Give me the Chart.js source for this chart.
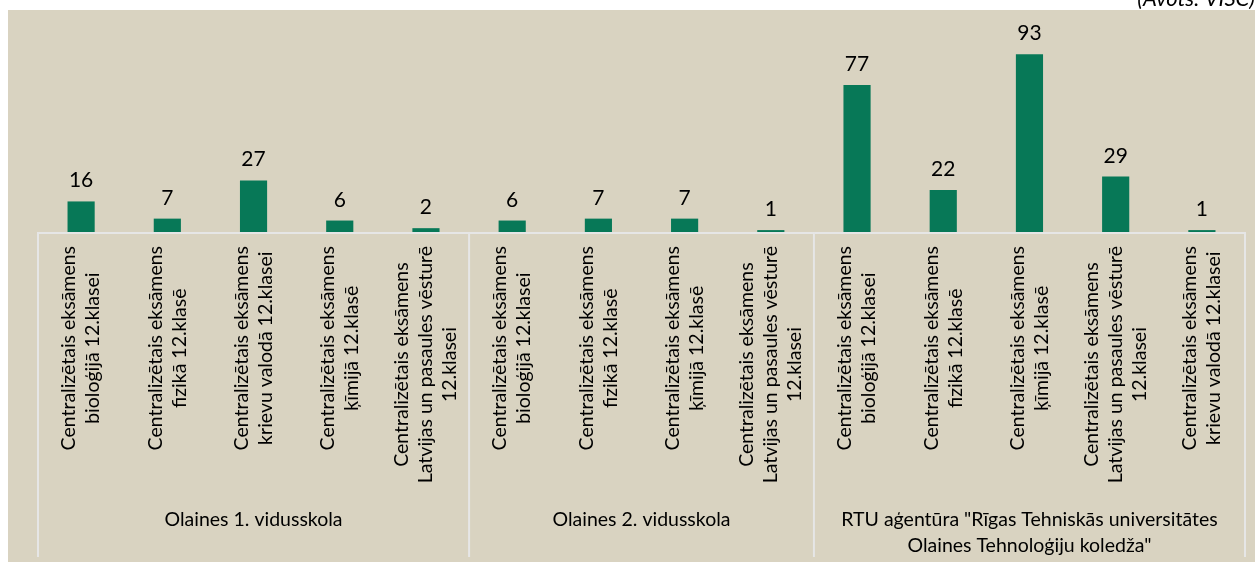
<!DOCTYPE html>
<html>
<head>
<meta charset="utf-8">
<script src="https://cdn.jsdelivr.net/npm/chart.js@4/dist/chart.umd.min.js"></script>
<style>
  html, body { margin: 0; padding: 0; background: #fff; }
  #wrap { width: 1255px; height: 562px; position: relative; }
</style>
</head>
<body>
<div id="wrap"><canvas id="chart" width="1255" height="562"></canvas></div>
<script>
// Data
const categories = [
    ["Centralizētais eksāmens", "bioloģijā 12.klasei"],
    ["Centralizētais eksāmens", "fizikā 12.klasē"],
    ["Centralizētais eksāmens", "krievu valodā 12.klasei"],
    ["Centralizētais eksāmens", "ķīmijā 12.klasē"],
    ["Centralizētais eksāmens", "Latvijas un pasaules vēsturē", "12.klasei"],
    ["Centralizētais eksāmens", "bioloģijā 12.klasei"],
    ["Centralizētais eksāmens", "fizikā 12.klasē"],
    ["Centralizētais eksāmens", "ķīmijā 12.klasē"],
    ["Centralizētais eksāmens", "Latvijas un pasaules vēsturē", "12.klasei"],
    ["Centralizētais eksāmens", "bioloģijā 12.klasei"],
    ["Centralizētais eksāmens", "fizikā 12.klasē"],
    ["Centralizētais eksāmens", "ķīmijā 12.klasē"],
    ["Centralizētais eksāmens", "Latvijas un pasaules vēsturē", "12.klasei"],
    ["Centralizētais eksāmens", "krievu valodā 12.klasei"]
];
const values = [16, 7, 27, 6, 2, 6, 7, 7, 1, 77, 22, 93, 29, 1];
const groupNames = [
    ["Olaines 1. vidusskola"],
    ["Olaines 2. vidusskola"],
    ["RTU aģentūra \"Rīgas Tehniskās universitātes", "Olaines Tehnoloģiju koledža\""]
];
const groupSizes = [5, 4, 5];
const sourceNote = "(Avots: VISC)";

const FONT = "Lato, 'Open Sans', sans-serif";
const BG = '#d9d3c1';
const BAR = '#077857';
const LINE = '#e6e6e6';

// background panel
const panelPlugin = {
    id: 'panel',
    beforeDraw(chart) {
        const ctx = chart.ctx;
        ctx.save();
        ctx.fillStyle = '#ffffff';
        ctx.fillRect(0, 0, chart.width, chart.height);
        ctx.fillStyle = BG;
        ctx.fillRect(8, 10, chart.width - 8, chart.height - 10);
        ctx.restore();
    }
};

// axis line, separators, labels
const labelsPlugin = {
    id: 'labels',
    afterDraw(chart) {
        const ctx = chart.ctx;
        const x = chart.scales.x;
        const area = chart.chartArea;
        const step = x.getPixelForValue(1) - x.getPixelForValue(0);
        const start = x.getPixelForValue(0) - step / 2;
        const axisY = area.bottom;
        const sepBottom = 557;
        ctx.save();

        // axis line
        ctx.strokeStyle = LINE;
        ctx.lineWidth = 2;
        ctx.beginPath();
        ctx.moveTo(area.left, axisY + 1);
        ctx.lineTo(area.right, axisY + 1);
        ctx.stroke();

        // group separators
        let idx = 0;
        const bounds = [0];
        groupSizes.forEach(n => { idx += n; bounds.push(idx); });
        bounds.forEach(b => {
            const px = start + b * step;
            ctx.beginPath();
            ctx.moveTo(px, axisY);
            ctx.lineTo(px, sepBottom);
            ctx.stroke();
        });

        // value labels
        ctx.fillStyle = '#000';
        ctx.textAlign = 'center';
        ctx.textBaseline = 'alphabetic';
        ctx.font = '21px ' + FONT;
        chart.getDatasetMeta(0).data.forEach((bar, i) => {
            ctx.fillText(String(values[i]), bar.x, bar.y - 14);
        });

        // rotated category labels
        ctx.font = '19.5px ' + FONT;
        const lineH = 24;
        categories.forEach((lines, i) => {
            const cx = x.getPixelForValue(i);
            const maxW = Math.max(...lines.map(l => ctx.measureText(l).width));
            const cy = axisY + 14 + maxW / 2;
            ctx.save();
            ctx.translate(cx, cy);
            ctx.rotate(-Math.PI / 2);
            ctx.textAlign = 'center';
            ctx.textBaseline = 'middle';
            lines.forEach((l, j) => {
                const off = (j - (lines.length - 1) / 2) * lineH;
                ctx.fillText(l, 0, off);
            });
            ctx.restore();
        });

        // group labels
        ctx.textAlign = 'center';
        ctx.textBaseline = 'middle';
        for (let g = 0; g < groupNames.length; g++) {
            const left = start + bounds[g] * step;
            const right = start + bounds[g + 1] * step;
            groupNames[g].forEach((l, j) => {
                ctx.fillText(l, (left + right) / 2, 520 + j * 26);
            });
        }

        // source note
        ctx.font = 'italic 22px ' + FONT;
        ctx.textAlign = 'right';
        ctx.textBaseline = 'alphabetic';
        ctx.fillText(sourceNote, 1255, 6);

        ctx.restore();
    }
};

const chartCanvas = document.getElementById('chart');

let barData = {
    labels: categories,
    datasets: [{
        data: values,
        backgroundColor: BAR,
        borderWidth: 0,
        categoryPercentage: 1,
        barPercentage: 0.315
    }]
};

let barOptions = {
    responsive: false,
    animation: false,
    layout: {
        padding: { left: 38, right: 10, top: 41, bottom: 330 }
    },
    scales: {
        x: { display: false },
        y: { display: false, min: 0, max: 100 }
    },
    plugins: {
        legend: { display: false },
        tooltip: { enabled: false }
    }
};

let barChart = new Chart(chartCanvas, {
    type: 'bar',
    data: barData,
    options: barOptions,
    plugins: [panelPlugin, labelsPlugin]
});
</script>
</body>
</html>
